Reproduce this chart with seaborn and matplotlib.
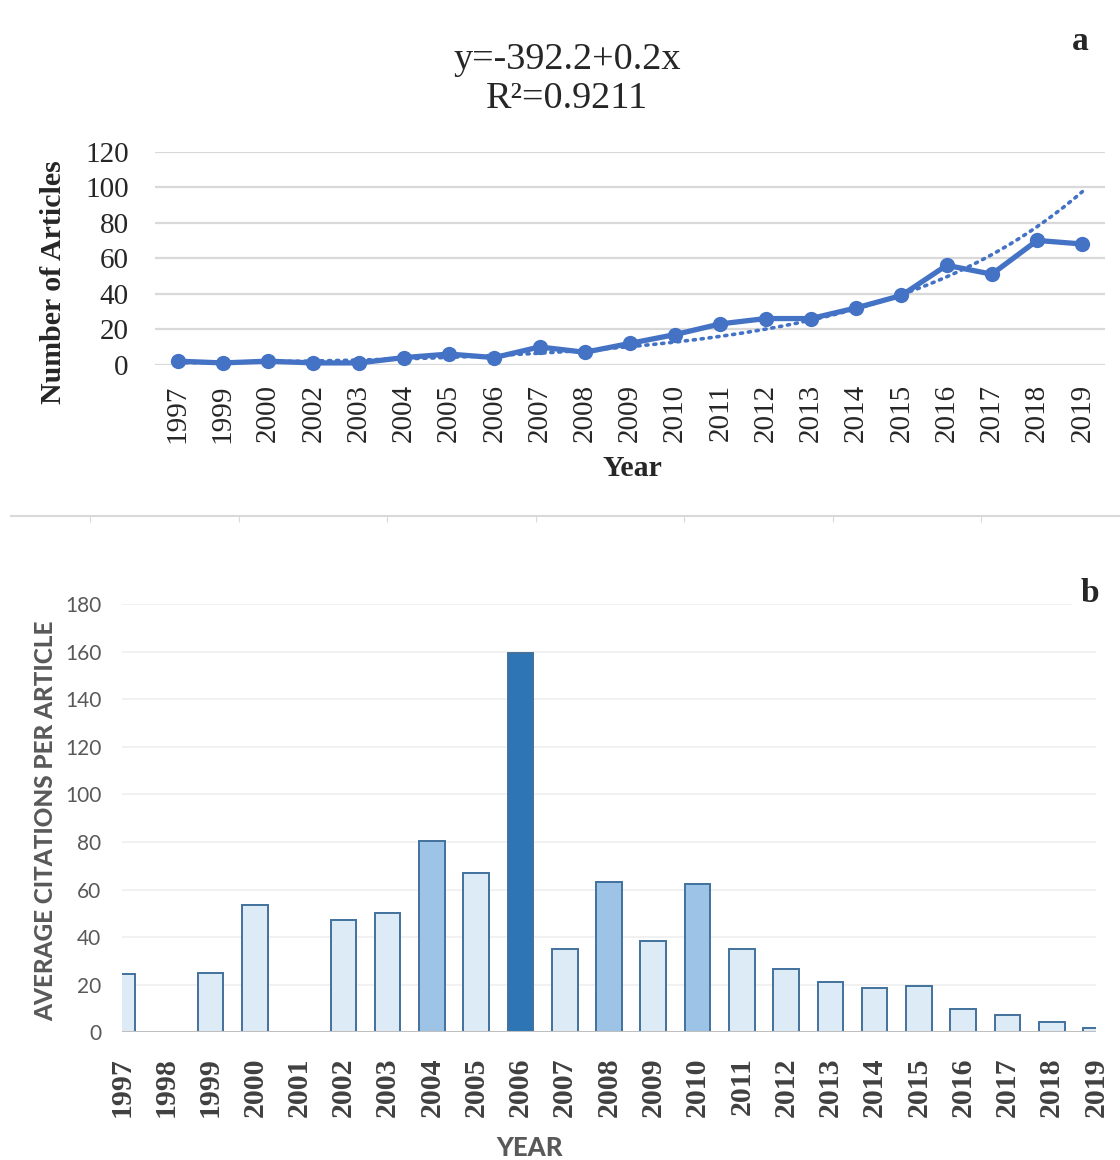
import numpy as np
import pandas as pd
import seaborn as sns
import matplotlib.pyplot as plt

# panel a: articles per year
years_a = ['1997', '1999', '2000', '2002', '2003', '2004', '2005', '2006', '2007', '2008', '2009',
           '2010', '2011', '2012', '2013', '2014', '2015', '2016', '2017', '2018', '2019']
articles = [2, 1, 2, 1, 1, 4, 6, 4, 10, 7, 12, 17, 23, 26, 26, 32, 39, 56, 51, 70, 68]

# panel b: average citations per article
years_b = ['1997', '1998', '1999', '2000', '2001', '2002', '2003', '2004', '2005', '2006', '2007', '2008',
           '2009', '2010', '2011', '2012', '2013', '2014', '2015', '2016', '2017', '2018', '2019']
citations = [24.4, 0, 24.9, 53.5, 0, 47.2, 50.3, 80.4, 67.1, 159.6, 34.9, 63.3,
             38.4, 62.3, 34.9, 26.7, 21.3, 18.5, 19.5, 9.8, 7.3, 4.2, 1.7]
shade = ['light', 'light', 'light', 'light', 'light', 'light', 'light', 'mid', 'light', 'dark', 'light', 'mid',
         'light', 'mid', 'light', 'light', 'light', 'light', 'light', 'light', 'light', 'light', 'light']
shade_colors = {'light': '#DDEBF7', 'mid': '#9DC3E6', 'dark': '#2E75B6'}

sns.set_style('white')
serif = ['Liberation Serif', 'DejaVu Serif']
sans = ['Lato', 'DejaVu Sans']
plt.rcParams['font.family'] = serif

fig = plt.figure(figsize=(11.2, 11.6), dpi=100)
W, H = 1120, 1160

def box(l, t, r, b):
    return [l / W, 1 - b / H, (r - l) / W, (b - t) / H]

# ---------- panel a ----------
ax1 = fig.add_axes(box(155, 151.7, 1105, 364.7))
df_a = pd.DataFrame({'idx': np.arange(len(years_a)), 'n': articles})
# exponential trend fitted on the counts
coef = np.polyfit(df_a['idx'], np.log(df_a['n']), 1)
xs = np.linspace(0, len(years_a) - 1, 200)
ax1.plot(xs, np.exp(np.polyval(coef, xs)), ls=(0, (0.6, 1.6)), lw=2.6, color='#4472C4',
         dash_capstyle='round', zorder=2)
sns.lineplot(data=df_a, x='idx', y='n', color='#4472C4', lw=3.8, marker='o', markersize=11,
             markeredgewidth=0, ax=ax1, zorder=3, clip_on=False)
ax1.set_xlim(-0.5, len(years_a) - 0.5)
ax1.set_ylim(0, 120)
ax1.set_yticks(range(0, 121, 20))
ax1.set_xticks(df_a['idx'])
ax1.set_xticklabels(years_a, rotation=90)
ax1.grid(axis='y', color='#D9D9D9', lw=1.6)
ax1.set_axisbelow(True)
for s in ax1.spines.values():
    s.set_visible(False)
ax1.tick_params(axis='y', labelsize=21, pad=19, length=0)
ax1.tick_params(axis='x', labelsize=21, pad=14, length=0)
ax1.set_xlabel('')
ax1.set_ylabel('')
fig.text(54 / W, 1 - 282 / H, 'Number of Articles', rotation=90, ha='center', va='center',
         fontsize=21.5, fontweight='bold')
fig.text(632 / W, 1 - 468 / H, 'Year', ha='center', va='center', fontsize=21.5, fontweight='bold')
fig.text(567 / W, 1 - 60 / H, 'y=-392.2+0.2x', ha='center', va='center', fontsize=27.5)
fig.text(567 / W, 1 - 99 / H, 'R²=0.9211', ha='center', va='center', fontsize=27.5)
fig.text(1080 / W, 1 - 42 / H, 'a', ha='center', va='center', fontsize=24, fontweight='bold')

# separator line between the panels
sep = fig.add_axes([0.01, 1 - 516 / H, 0.99, 0.0001])
sep.set_xlim(0, 1120)
sep.set_yticks([])
sep.set_xticks([80, 230, 380, 530, 680, 830, 980])
sep.set_xticklabels([])
sep.tick_params(axis='x', direction='in', length=4, color='#D9D9D9', top=True, bottom=False)
for k, s in sep.spines.items():
    s.set_visible(k == 'top')
sep.spines['top'].set_color('#D9D9D9')
sep.spines['top'].set_linewidth(1.5)
sep.patch.set_visible(False)

# ---------- panel b ----------
ax2 = fig.add_axes(box(122, 604, 1096, 1032.3))
df_b = pd.DataFrame({'year': years_b, 'cit': citations, 'shade': shade})
sns.barplot(data=df_b, x='year', y='cit', hue='year', palette=[shade_colors[s] for s in shade],
            saturation=1, legend=False, width=0.58, edgecolor='#41719C', linewidth=1.4, ax=ax2, zorder=2)
ax2.set_xlim(0, len(years_b) - 1)
ax2.set_ylim(0, 180)
ax2.set_yticks(range(0, 181, 20))
ax2.grid(axis='y', color='#F0F0F0', lw=1.3)
ax2.set_axisbelow(True)
for s in ax2.spines.values():
    s.set_visible(False)
ax2.axhline(0, color='#BFBFBF', lw=2.2, zorder=3)
ax2.tick_params(axis='y', labelsize=15, pad=15, length=0, labelcolor='#595959')
for t in ax2.get_yticklabels():
    t.set_fontfamily(sans)
ax2.tick_params(axis='x', length=0, pad=18)
ax2.set_xticks(range(len(years_b)))
ax2.set_xticklabels(years_b, rotation=90, fontsize=21.5, fontweight='bold', color='#404040')
ax2.set_xlabel('')
ax2.set_ylabel('')
fig.text(46 / W, 1 - 821 / H, 'AVERAGE CITATIONS PER ARTICLE', rotation=90, ha='center', va='center',
         fontsize=17.5, fontweight='black', color='#595959', family=sans)
fig.text(530 / W, 1 - 1148 / H, 'YEAR', ha='center', va='center', fontsize=18.5, fontweight='black',
         color='#595959', family=sans)
fig.text(1090 / W, 1 - 593 / H, 'b', ha='center', va='center', fontsize=24, fontweight='bold',
         bbox=dict(facecolor='white', edgecolor='none', pad=6))

fig.savefig('out.png', dpi=100)
